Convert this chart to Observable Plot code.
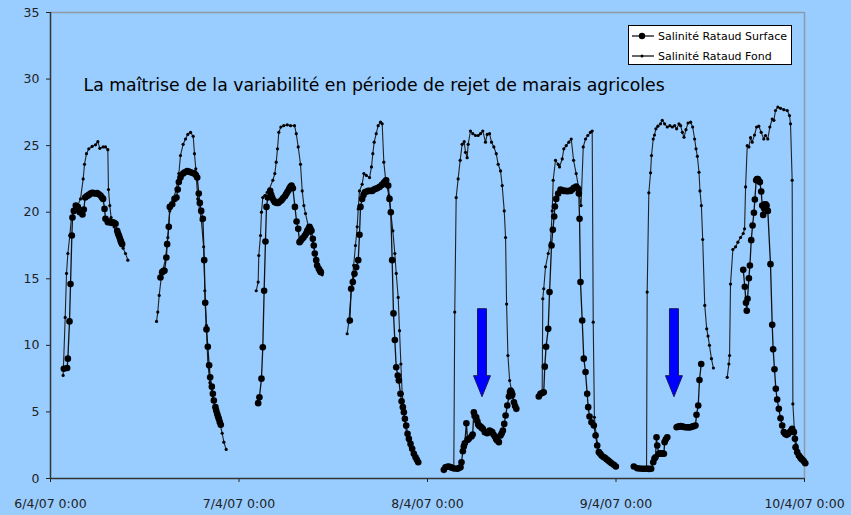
<!DOCTYPE html>
<html>
<head>
<meta charset="utf-8">
<script src="https://cdn.jsdelivr.net/npm/d3@7"></script>
<script src="https://cdn.jsdelivr.net/npm/@observablehq/plot@0.6"></script>
<style>
  html, body { margin: 0; padding: 0; background: #99ccff; }
  #wrap { position: relative; width: 851px; height: 515px; background: #99ccff; }
  #legend { position: absolute; left: 628px; top: 25px; width: 164px; height: 40px;
            background: #fff; border: 1px solid #000; box-sizing: border-box;
            font-family: "Comic Sans MS", "DejaVu Sans", sans-serif; font-size: 11px; color: #000; }
  #legend .row { position: absolute; left: 2px; height: 14px; display: flex; align-items: center; white-space: nowrap; }
  #legend svg { margin-right: 3px; }
</style>
</head>
<body>
<div id="wrap"></div>
<script>
// ---- data (hours since 6/4/07 0:00 ; salinity) ; null = gap in record ----
const seriesNames = ["Salinité Rataud Surface", "Salinité Rataud Fond"];
const titleText = "La maîtrise de la variabilité en période de rejet de marais agricoles";
const xTickLabels = ["6/4/07 0:00", "7/4/07 0:00", "8/4/07 0:00", "9/4/07 0:00", "10/4/07 0:00"];
const yTicks = [0, 5, 10, 15, 20, 25, 30, 35];

const surfaceHours = [
  1.7, 2.12, 2.21, 2.42, 2.55, 2.72, 2.8, 2.97, 3.22, 3.48, 3.73, 4.07, 4.24, 4.41, 4.6, 4.75, 4.9, 5.09, 5.3, 5.52, 5.7, 5.94, 6.15, 6.37, 6.55, 6.7, 6.88, 7.0, 7.3, 7.5, 7.7, 7.85, 8.0, 8.1, 8.28, 8.49, 8.6, 8.7, 8.8, 8.91, 9.0, 9.12, null,
  14.0, 14.22, 14.4, 14.51, 14.75, 14.85, 15.06, 15.19, 15.5, 15.79, 16.04, 16.2, 16.34, 16.55, 16.89, 17.1, 17.4, 17.6, 17.83, 18.1, 18.33, 18.5, 18.68, 18.88, 19.01, 19.19, 19.4, 19.57, 19.7, 19.86, 20.03, 20.2, 20.33, 20.54, 20.67, 20.8, 21.0, 21.1, 21.22, 21.33, 21.43, 21.55, 21.68, null,
  26.44, 26.6, 26.86, 27.03, 27.2, 27.37, 27.5, 27.67, 27.97, 28.1, 28.22, 28.4, 28.56, 28.8, 28.99, 29.2, 29.41, 29.6, 29.84, 30.0, 30.14, 30.3, 30.43, 30.55, 30.69, 30.86, 31.12, 31.33, 31.54, 31.71, 31.85, 32.05, 32.2, 32.39, 32.55, 32.69, 32.85, 32.98, 33.1, 33.23, 33.4, 33.52, 33.65, 33.83, 33.95, 34.16, 34.3, 34.42, null,
  38.11, 38.28, 38.49, 38.7, 38.92, 39.18, 39.34, 39.47, 39.68, 39.85, 40.02, 40.25, 40.45, 40.7, 40.96, 41.2, 41.38, 41.6, 41.89, 42.2, 42.44, 42.6, 42.74, 43.0, 43.16, 43.33, 43.5, 43.67, 43.84, 44.02, 44.22, 44.35, 44.56, 44.7, 44.86, 44.99, 45.12, 45.29, 45.46, 45.63, 45.84, 46.05, 46.26, 46.48, 46.65, 46.82, null,
  50.08, 50.29, 50.5, 50.72, 50.95, 51.14, 51.4, 51.78, 52.0, 52.2, 52.33, 52.5, 52.62, 52.75, 52.95, 53.1, 53.26, 53.6, 53.75, 53.9, 54.0, 54.2, 54.35, 54.45, 54.6, 54.75, 54.9, 55.04, 55.3, 55.6, 55.75, 55.9, 56.05, 56.24, 56.4, 56.58, 56.75, 56.88, 57.09, 57.3, 57.45, 57.6, 57.77, 57.94, 58.16, 58.37, 58.5, 58.58, 58.7, 58.8, 59.01, 59.15, 59.31, null,
  62.17, 62.39, 62.6, 62.8, 62.93, 63.1, 63.37, 63.54, 63.79, 63.96, 64.13, 64.22, 64.39, 64.64, 64.94, 65.15, 65.36, 65.58, 65.79, 66.0, 66.21, 66.43, 66.64, 66.94, 67.19, 67.27, 67.36, 67.48, 67.7, 67.9, 68.12, 68.33, 68.46, 68.63, 68.88, 69.18, 69.4, 69.61, 69.82, 70.0, 70.16, 70.4, 70.59, 70.8, 71.01, 71.2, 71.43, 71.72, 71.98, null,
  74.27, 74.7, 75.0, 75.34, 75.65, 75.97, 76.2, 76.48, 76.74, 76.9, 77.03, 77.16, 77.25, 77.46, 77.6, 77.76, 77.93, 78.1, 78.19, 78.35, 78.53, null,
  79.72, 79.9, 80.05, 80.23, 80.4, 80.55, 80.7, 80.87, 81.05, 81.2, 81.35, 81.5, 81.7, 81.9, 82.12, 82.25, 82.47, 82.63, 82.85, null,
  88.2, 88.4, 88.55, 88.65, 88.75, 88.92, 89.05, 89.22, 89.39, 89.56, 89.68, 89.85, 89.95, 90.06, 90.2, 90.32, 90.49, 90.62, 90.74, 90.85, 90.92, 91.05, 91.17, 91.33, 91.67, 91.89, 92.01, 92.18, 92.35, 92.52, 92.73, 92.95, 93.16, 93.37, 93.55, 93.72, 93.9, 94.14, 94.3, 94.43, 94.65, 94.78, 94.86, 95.07, 95.28, 95.45, 95.58, 95.75, 95.92, 96.1
];
const surfaceValues = [
  8.24, 8.3, 9.0, 11.8, 14.6, 18.25, 19.6, 20.1, 20.5, 20.4, 20.0, 19.83, 20.2, 21.1, 21.2, 21.25, 21.3, 21.4, 21.45, 21.43, 21.4, 21.43, 21.35, 21.25, 21.1, 21.0, 20.25, 19.5, 19.25, 19.3, 19.2, 19.25, 19.2, 19.2, 19.13, 18.6, 18.4, 18.25, 18.1, 17.9, 17.75, 17.6, null,
  15.1, 15.5, 15.6, 15.6, 16.6, 17.6, 18.9, 20.4, 20.6, 21.0, 21.1, 21.7, 22.26, 22.6, 22.9, 23.0, 23.1, 23.05, 23.0, 22.95, 22.9, 22.8, 22.6, 21.4, 20.7, 20.1, 19.5, 16.4, 13.2, 11.2, 9.9, 8.5, 7.6, 6.9, 6.36, 5.86, 5.36, 5.1, 4.86, 4.65, 4.48, 4.25, 4.03, null,
  5.66, 6.1, 7.5, 9.86, 14.1, 17.8, 20.4, 21.1, 21.6, 21.3, 21.1, 20.9, 20.75, 20.7, 20.7, 20.8, 20.9, 21.05, 21.2, 21.35, 21.5, 21.65, 21.8, 21.9, 22.0, 21.8, 20.4, 19.3, 18.75, 17.75, 17.85, 18.0, 18.1, 18.25, 18.4, 18.6, 18.75, 18.9, 18.75, 18.6, 18.0, 17.5, 16.9, 16.4, 16.0, 15.75, 15.6, 15.5, null,
  11.87, 14.25, 14.75, 15.37, 15.87, 16.4, 18.3, 20.4, 21.0, 21.3, 21.5, 21.55, 21.6, 21.6, 21.6, 21.7, 21.76, 21.8, 21.9, 22.05, 22.2, 22.3, 22.4, 22.0, 21.0, 20.0, 16.4, 12.4, 10.4, 8.36, 7.74, 7.36, 6.36, 5.8, 5.36, 4.98, 4.48, 3.98, 3.36, 2.98, 2.6, 2.23, 1.86, 1.6, 1.4, 1.22, null,
  0.65, 0.85, 0.88, 0.9, 0.85, 0.8, 0.75, 0.73, 0.78, 0.85, 1.22, 2.05, 2.4, 2.65, 4.15, 2.9, 2.98, 3.15, 3.3, 4.98, 4.7, 4.6, 4.3, 4.06, 3.95, 3.9, 3.8, 3.73, 3.48, 3.4, 3.5, 3.6, 3.55, 3.48, 3.3, 3.15, 2.95, 2.85, 2.73, 3.23, 3.4, 3.6, 4.1, 4.73, 5.48, 6.16, 6.5, 6.6, 6.5, 6.3, 5.73, 5.45, 5.23, null,
  6.16, 6.36, 6.42, 6.48, 8.4, 9.9, 11.24, 14.0, 17.5, 18.68, 19.68, 20.43, 21.0, 21.4, 21.7, 21.65, 21.6, 21.6, 21.58, 21.6, 21.6, 21.7, 21.83, 21.93, 21.76, 21.4, 19.5, 14.75, 11.87, 9.0, 8.0, 6.36, 5.36, 4.66, 4.23, 3.98, 3.23, 2.48, 1.98, 1.85, 1.73, 1.62, 1.55, 1.45, 1.35, 1.25, 1.15, 1.03, 0.9, null,
  0.9, 0.77, 0.75, 0.73, 0.73, 0.73, 0.72, 0.73, 1.22, 1.5, 1.6, 3.1, 2.48, 1.86, 1.9, 1.86, 1.9, 1.86, 2.73, 2.95, 3.1, null,
  3.85, 3.9, 3.9, 3.93, 3.9, 3.88, 3.87, 3.85, 3.85, 3.85, 3.85, 3.85, 3.9, 3.93, 3.98, 4.78, 5.48, 7.4, 8.6, null,
  15.67, 14.4, 13.2, 12.6, 13.5, 15.04, 16.0, 17.9, 19.0, 19.96, 20.96, 22.4, 22.5, 22.5, 22.35, 22.26, 21.56, 20.5, 19.8, 20.3, 20.6, 20.6, 20.5, 20.1, 16.1, 11.54, 9.7, 8.2, 6.74, 5.93, 5.23, 4.53, 3.98, 3.48, 3.35, 3.28, 3.35, 3.48, 3.6, 3.73, 3.48, 2.98, 2.35, 1.98, 1.73, 1.6, 1.48, 1.4, 1.3, 1.15
];

const fondHours = [
  1.61, 1.87, 2.04, 2.21, 2.46, 2.65, 2.89, 3.39, 3.82, 4.16, 4.33, 4.58, 4.88, 5.3, 5.73, 6.03, 6.28, 6.7, 7.0, 7.3, 7.38, 7.55, 7.72, 8.1, 8.49, 8.9, 9.25, 9.55, 9.85, null,
  13.5, 13.66, 13.84, 14.1, 14.64, 14.94, 15.19, 15.62, 16.04, 16.34, 16.55, 16.89, 17.19, 17.48, 17.83, 18.17, 18.33, 18.5, 18.75, 19.2, 19.5, 19.65, 19.85, 20.03, 20.3, 20.7, 21.1, 21.5, 21.86, 22.07, 22.37, null,
  26.19, 26.44, 26.52, 26.74, 26.86, 27.03, 27.29, 27.6, 27.88, 28.31, 28.56, 28.74, 28.9, 29.07, 29.33, 29.7, 30.14, 30.56, 31.07, 31.29, 31.54, 31.83, 32.05, 32.26, 32.47, 32.81, 33.1, 33.4, 33.74, 34.08, 34.37, 34.59, null,
  37.77, 37.98, 38.32, 38.6, 38.83, 39.05, 39.18, 39.34, 39.68, 39.9, 40.2, 40.62, 40.87, 41.04, 41.21, 41.47, 41.72, 42.02, 42.23, 42.44, 42.66, 43.08, 43.59, 43.84, 44.02, 44.27, 44.44, 44.61, 44.78, 44.99, 45.2, 45.54, 45.84, 46.26, 46.69, 46.98, null,
  50.08, 50.7, 51.35, 51.47, 51.65, 51.9, 52.16, 52.41, 52.67, 52.84, 53.05, 53.18, 53.47, 53.77, 54.11, 54.45, 54.75, 55.04, 55.38, 55.6, 55.9, 56.15, 56.45, 56.75, 57.0, 57.3, 57.51, 57.77, 57.94, 58.07, 58.24, 58.46, 58.71, 58.88, 59.14, 59.4, null,
  62.09, 62.6, 62.68, 62.8, 63.03, 63.37, 63.66, 63.88, 64.0, 64.3, 64.64, 64.81, 65.15, 65.36, 65.66, 66.0, 66.3, 66.6, 66.93, 67.22, 67.35, 67.55, 67.83, 68.12, 68.41, 68.75, 68.97, 69.1, 69.25, 69.45, 69.65, 69.9, 70.3, 70.8, 71.3, 71.72, null,
  74.27, 75.0, 75.89, 75.97, 76.18, 76.4, 76.52, 76.74, 76.9, 77.08, 77.33, 77.67, 77.89, 78.19, 78.53, 78.86, 79.17, 79.47, 79.72, 80.02, 80.23, 80.45, 80.66, 80.91, 81.17, 81.5, 81.76, 82.01, 82.19, 82.36, 82.57, 82.69, 82.87, 83.04, 83.3, 83.55, 83.72, 83.9, 84.15, 84.4, null,
  86.16, 86.37, 86.46, 86.58, 86.88, 87.22, 87.52, 87.86, 88.2, 88.37, 88.5, 88.71, 88.92, 89.13, 89.34, 89.64, 89.9, 90.18, 90.49, 90.82, 91.04, 91.33, 91.59, 91.89, 92.1, 92.31, 92.61, 92.95, 93.37, 93.8, 94.09, 94.22, 94.43, 94.52, 94.73, 95.0, 95.4, 95.8, 96.13
];
const fondValues = [
  7.74, 12.1, 15.4, 16.9, 18.25, 19.5, 20.1, 20.4, 21.0, 22.5, 23.6, 24.4, 24.76, 24.94, 25.06, 25.3, 24.8, 24.9, 24.9, 24.7, 21.7, 20.5, 19.6, 18.9, 18.4, 17.75, 17.3, 16.9, 16.4, null,
  11.8, 12.5, 13.75, 15.1, 16.5, 18.1, 20.1, 20.9, 21.8, 22.9, 24.26, 25.1, 25.5, 25.84, 26.0, 25.7, 24.4, 23.26, 21.0, 19.4, 17.4, 14.1, 11.5, 8.6, 7.2, 6.0, 5.0, 4.3, 3.4, 2.73, 2.18, null,
  14.1, 14.75, 16.75, 18.25, 20.0, 21.1, 21.25, 21.5, 21.76, 22.4, 22.9, 23.76, 24.76, 26.0, 26.4, 26.5, 26.56, 26.5, 26.5, 25.9, 24.9, 23.6, 21.6, 20.5, 19.9, 19.0, 18.4, 17.6, 16.9, 16.1, 15.5, 15.3, null,
  10.87, 11.74, 14.25, 16.0, 17.5, 18.9, 20.25, 21.6, 22.1, 22.9, 22.76, 22.6, 23.4, 24.4, 25.26, 25.9, 26.5, 26.76, 26.64, 23.76, 22.5, 21.25, 18.6, 16.9, 15.4, 13.6, 11.1, 8.6, 6.36, 5.1, 3.85, 2.85, 2.35, 1.86, 1.35, 1.18, null,
  0.65, 0.85, 0.8, 12.5, 21.1, 22.5, 23.9, 25.1, 25.3, 24.5, 24.1, 25.1, 26.1, 25.9, 25.76, 25.76, 25.9, 26.1, 25.26, 25.84, 25.9, 25.26, 24.9, 24.4, 23.6, 23.1, 22.0, 20.1, 18.1, 13.1, 9.24, 7.36, 6.6, 6.1, 5.6, 5.23, null,
  6.23, 6.48, 13.5, 14.25, 15.9, 16.9, 17.7, 20.1, 22.4, 23.9, 23.6, 23.4, 24.0, 24.76, 25.0, 25.26, 25.5, 23.9, 22.9, 21.9, 21.25, 20.5, 24.9, 25.5, 25.76, 26.0, 26.1, 11.74, 4.6, 3.4, 2.6, 2.0, 1.7, 1.45, 1.2, 0.98, null,
  0.9, 0.8, 0.85, 14.0, 21.46, 22.96, 24.26, 25.5, 25.8, 26.26, 26.46, 26.64, 26.9, 26.64, 26.4, 26.5, 26.4, 26.5, 26.26, 26.64, 26.5, 26.0, 25.63, 26.2, 26.7, 26.76, 26.4, 25.5, 24.76, 24.2, 23.0, 21.6, 20.5, 17.95, 13.0, 11.24, 10.7, 10.0, 9.0, 8.3, null,
  7.6, 8.6, 9.24, 14.6, 17.2, 17.4, 17.75, 18.1, 18.4, 18.75, 21.9, 25.0, 24.9, 25.6, 25.26, 25.8, 26.4, 26.46, 26.0, 25.5, 25.76, 25.5, 26.4, 27.0, 26.9, 27.64, 27.9, 27.8, 27.7, 27.64, 27.26, 26.64, 22.4, 5.6, 3.48, 2.5, 1.8, 1.4, 1.22
];

// annotation arrows (blue, pointing down) : hour, top value, tip value
const arrowHours = [54.94, 79.38];
const arrowTop = [12.8, 12.8];
const arrowTip = [6.1, 6.1];

// ---- build ----
const base = Date.UTC(2007, 3, 6);
const toDate = h => new Date(base + h * 3600000);
const rows = (hs, vs) => hs.map((h, i) => ({t: h == null ? null : toDate(h), v: vs[i]}));
const surface = rows(surfaceHours, surfaceValues);
const fond = rows(fondHours, fondValues);
const xTicks = xTickLabels.map((_, i) => toDate(24 * i));
const arrows = arrowHours.map((h, i) => ({t: toDate(h), v: (arrowTop[i] + arrowTip[i]) / 2}));

// block-arrow symbol (pixel geometry, centred on its datum)
const blockArrow = {
  draw(ctx) {
    ctx.moveTo(-4.5, -44); ctx.lineTo(4.5, -44); ctx.lineTo(4.5, 23);
    ctx.lineTo(8.5, 23); ctx.lineTo(0, 44); ctx.lineTo(-8.5, 23);
    ctx.lineTo(-4.5, 23); ctx.closePath();
  }
};

const font = '"Comic Sans MS", "DejaVu Sans", sans-serif';
const chart = Plot.plot({
  width: 851,
  height: 515,
  marginLeft: 50,
  marginRight: 47,
  marginTop: 12,
  marginBottom: 37,
  style: {background: "#99ccff", fontFamily: font, fontSize: "12.5px", color: "#222"},
  x: {type: "utc", domain: [toDate(0), toDate(96)], ticks: xTicks,
      tickFormat: (d, i) => xTickLabels[i], tickSize: 4, tickPadding: 17, label: null},
  y: {domain: [0, 35], ticks: yTicks, tickSize: 4, tickPadding: 7, label: null},
  marks: [
    Plot.ruleY([35], {stroke: "#8f9aa6", strokeWidth: 1.5}),
    Plot.ruleX([toDate(96)], {stroke: "#8f9aa6", strokeWidth: 1.5}),
    Plot.ruleX([toDate(0)], {stroke: "#333", strokeWidth: 1.5}),
    Plot.ruleY([0], {stroke: "#333", strokeWidth: 1.5}),
    Plot.line(fond, {x: "t", y: "v", stroke: "#222", strokeWidth: 1.1}),
    Plot.dot(fond, {x: "t", y: "v", r: 1.6, fill: "#000", stroke: "none"}),
    Plot.line(surface, {x: "t", y: "v", stroke: "#111", strokeWidth: 1.3}),
    Plot.dot(surface, {x: "t", y: "v", r: 3.3, fill: "#000", stroke: "none"}),
    Plot.dot(arrows, {x: "t", y: "v", symbol: blockArrow, r: 5, fill: "#0000ff", stroke: "#1a1a60", strokeWidth: 1}),
    Plot.text([titleText], {frameAnchor: "top-left", dx: 33, dy: 73, text: d => d,
      textAnchor: "start", lineAnchor: "middle", fontSize: 17.3, fill: "#000"})
  ]
});
const wrap = document.getElementById("wrap");
wrap.appendChild(chart);

// legend box (inside the plot frame, top right)
const legend = document.createElement("div");
legend.id = "legend";
const sym = (r) => `<svg width="24" height="10"><line x1="1" x2="23" y1="5" y2="5" stroke="#000" stroke-width="1.2"/><circle cx="11" cy="5" r="${r}" fill="#000"/></svg>`;
legend.innerHTML =
  `<div class="row" style="top:3px">${sym(3.2)}<span>${seriesNames[0]}</span></div>` +
  `<div class="row" style="top:23px">${sym(1.5)}<span>${seriesNames[1]}</span></div>`;
wrap.appendChild(legend);
</script>
</body>
</html>
